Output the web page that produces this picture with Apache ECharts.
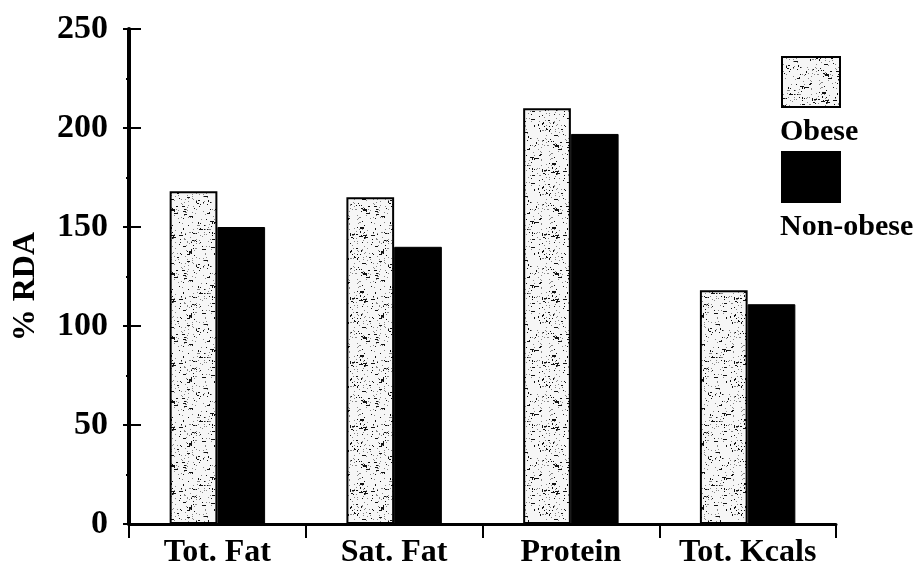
<!DOCTYPE html>
<html>
<head>
<meta charset="utf-8">
<script src="https://cdn.jsdelivr.net/npm/echarts@6/dist/echarts.min.js"></script>
<style>html,body{margin:0;padding:0;background:#fff}#c{width:920px;height:573px}</style>
</head>
<body>
<div id="c"></div>
<script>
const categories = ['Tot. Fat', 'Sat. Fat', 'Protein', 'Tot. Kcals'];
const obese = [168, 165, 210, 118];
const nonObese = [150, 140, 197, 111];
const yTicks = [0, 50, 100, 150, 200, 250];
const seriesNames = ['Obese', 'Non-obese'];

// stipple texture (style only)
function makeStipple() {
  const c = document.createElement('canvas');
  c.width = 64; c.height = 64;
  const g = c.getContext('2d');
  g.fillStyle = '#f6f6f6'; g.fillRect(0, 0, 64, 64);
  let s = 12345;
  const rnd = () => { s = (s * 1103515245 + 12345) % 2147483648; return s / 2147483648; };
  g.fillStyle = '#111';
  for (let i = 0; i < 140; i++) {
    const x = Math.floor(rnd() * 64), y = Math.floor(rnd() * 64);
    const w = rnd() < 0.3 ? 2 + Math.floor(rnd() * 3) : 1;
    const h = rnd() < 0.2 ? 2 : 1;
    g.fillRect(x, y, w, h);
  }
  g.fillStyle = '#888';
  for (let i = 0; i < 180; i++) {
    g.fillRect(Math.floor(rnd() * 64), Math.floor(rnd() * 64), 1, 1);
  }
  return c;
}
const stipple = { image: makeStipple(), repeat: 'repeat' };

const FONT = 'Liberation Serif';
const chart = echarts.init(document.getElementById('c'));
chart.setOption({
  animation: false,
  backgroundColor: '#fff',
  grid: { left: 129, right: 84, top: 29, bottom: 49 },
  legend: {
    orient: 'vertical',
    left: 776, top: 51,
    itemWidth: 58, itemHeight: 50, itemGap: 43,
    icon: 'rect',
    formatter: () => '',
    data: seriesNames,
    selectedMode: false
  },
  graphic: [
    { type: 'text', left: 780, top: 117, style: { text: seriesNames[0], font: 'bold 30px "Liberation Serif"', fill: '#000' } },
    { type: 'text', left: 780, top: 212, style: { text: seriesNames[1], font: 'bold 30px "Liberation Serif"', fill: '#000' } },
    { type: 'text', left: 10, top: 232, rotation: Math.PI / 2, style: { text: '% RDA', font: 'bold 32px "Liberation Serif"', fill: '#000' } }
  ],
  xAxis: {
    type: 'category',
    data: categories,
    axisLine: { lineStyle: { color: '#000', width: 3 } },
    axisTick: { show: true, interval: 0, length: 14, lineStyle: { color: '#000', width: 2 } },
    axisLabel: { interval: 0, hideOverlap: false, color: '#000', fontFamily: FONT, fontWeight: 'bold', fontSize: 32, margin: 13 }
  },
  yAxis: [
    {
      type: 'value', min: 0, max: 250, interval: 50,
      axisLine: { show: true, lineStyle: { color: '#000', width: 4 } },
      axisTick: { show: true, length: 6, lineStyle: { color: '#000', width: 2 } },
      minorTick: { show: true, splitNumber: 2, length: 3, lineStyle: { color: '#000', width: 2 } },
      splitLine: { show: false },
      axisLabel: {
        color: '#000', fontFamily: FONT, fontWeight: 'bold', fontSize: 34, margin: 21,
        formatter: v => yTicks.indexOf(v) >= 0 ? String(v) : ''
      }
    },
    {
      type: 'value', min: 0, max: 250, interval: 50, position: 'left',
      axisLine: { show: false },
      axisTick: { show: true, inside: true, length: 12, lineStyle: { color: '#000', width: 2 } },
      splitLine: { show: false },
      axisLabel: { show: false }
    }
  ],
  series: [
    {
      name: seriesNames[0], type: 'bar', data: obese,
      barGap: '0%', barCategoryGap: '46%',
      itemStyle: { color: stipple, borderColor: '#000', borderWidth: 2 }
    },
    {
      name: seriesNames[1], type: 'bar', data: nonObese,
      itemStyle: { color: '#000', borderColor: '#000', borderWidth: 1 }
    }
  ]
});
</script>
</body>
</html>
